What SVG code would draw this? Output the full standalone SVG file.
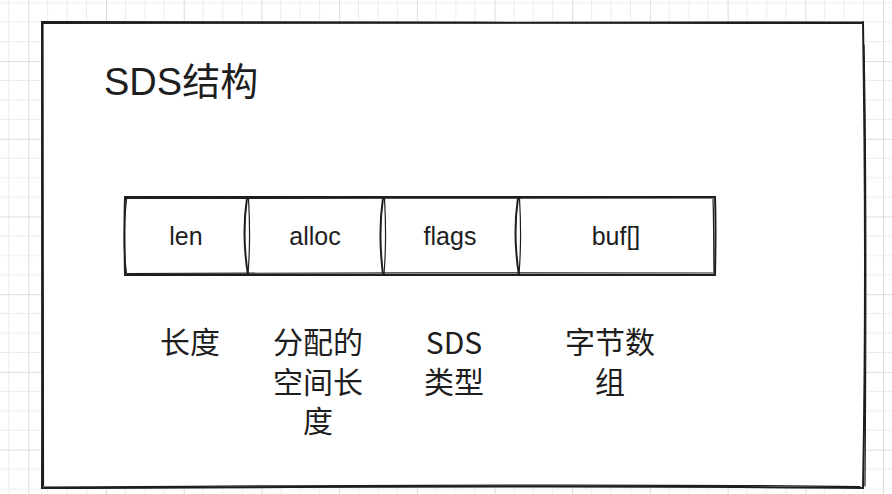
<svg xmlns="http://www.w3.org/2000/svg" width="892" height="494" viewBox="0 0 892 494">
  <defs>
    <pattern id="grid" patternUnits="userSpaceOnUse" x="28.3" y="-16.6" width="77.7" height="77.7">
      <path d="M19.425 0V77.7M38.85 0V77.7M58.275 0V77.7M0 19.425H77.7M0 38.85H77.7M0 58.275H77.7" stroke="#ececec" stroke-width="1" fill="none"/>
      <path d="M0.5 0V77.7M0 0.5H77.7" stroke="#dcdcdc" stroke-width="1" fill="none"/>
    </pattern>
  </defs>
  <style>
    .sk { fill: none; stroke: #1e1e1e; stroke-linecap: round; stroke-linejoin: round; }
    .lat { font-family: "Liberation Sans", "Noto Sans CJK SC", sans-serif; fill: #1e1e1e; }
    .cell { font-size: 25px; text-anchor: middle; }
    .lbl { font-size: 30px; text-anchor: middle; font-family: "Noto Sans CJK SC", "Liberation Sans", sans-serif; fill: #1e1e1e; }
  </style>
  <rect width="892" height="494" fill="#ffffff"/>
  <rect width="892" height="494" fill="url(#grid)"/>

  <g id="sds-frame">
    <path d="M42 22 L42 488 L863 488 L866 250 L863 22 Z" fill="#ffffff" stroke="none"/>
    <path class="sk" stroke-width="2.2" d="M42 22 C300 22.5 600 23 863 23"/>
    <path class="sk" stroke-width="1.2" d="M43 23.5 C320 23 610 22.8 862 22"/>
    <path class="sk" stroke-width="2" d="M863 22 C865 150 866 330 863 488"/>
    <path class="sk" stroke-width="1.2" d="M864 45 C866.5 170 866 350 865 486"/>
    <path class="sk" stroke-width="2" d="M863 488 C600 485 330 487 42 488"/>
    <path class="sk" stroke-width="1.2" d="M860 486.5 C580 483 300 486 44 487"/>
    <path class="sk" stroke-width="2" d="M42 488 C42.5 330 42 170 42 22"/>
    <path class="sk" stroke-width="1.2" d="M43.5 486 C43.5 320 43 160 43 24"/>
  </g>

  <g id="title">
    <text class="lat" x="104" y="95" font-size="38">SDS结构</text>
  </g>

  <g id="struct-row">
    <path class="sk" stroke-width="2" d="M125 197 C300 196.5 500 197.5 715 197"/>
    <path class="sk" stroke-width="1.2" d="M126 198.5 C320 198 520 198.5 713 198"/>
    <path class="sk" stroke-width="2" d="M715 197 C716 225 715.5 250 715 275"/>
    <path class="sk" stroke-width="1.2" d="M713 199 C714 230 713.5 252 714 273"/>
    <path class="sk" stroke-width="2" d="M715 275 C500 275.5 300 274 125 275"/>
    <path class="sk" stroke-width="1.2" d="M713 273 C520 272 320 273.5 127 273.5"/>
    <path class="sk" stroke-width="2" d="M125 197 C124 225 124.5 250 125 275"/>
    <path class="sk" stroke-width="1.2" d="M126.5 199 C123 230 124 255 126.5 273"/>
  </g>

  <g id="cell-len">
    <text class="lat cell" x="186" y="245">len</text>
  </g>
  <g id="cell-alloc">
    <path class="sk" stroke-width="2" d="M247 198 C243 225 244 250 248 275"/>
    <path class="sk" stroke-width="1.2" d="M248.5 198 C250 225 250 250 248 274"/>
    <text class="lat cell" x="315" y="245">alloc</text>
  </g>
  <g id="cell-flags">
    <path class="sk" stroke-width="2" d="M383 198 C379 225 380 250 383 275"/>
    <path class="sk" stroke-width="1.2" d="M384.5 198 C386 225 386 250 384 274"/>
    <text class="lat cell" x="450" y="245">flags</text>
  </g>
  <g id="cell-buf">
    <path class="sk" stroke-width="2" d="M518 198 C514 225 515 250 519 275"/>
    <path class="sk" stroke-width="1.2" d="M519.5 198 C521 225 521 250 519 274"/>
    <text class="lat cell" x="616" y="245">buf[]</text>
  </g>

  <g id="label-len">
    <text class="lbl" x="190" y="353">长度</text>
  </g>
  <g id="label-alloc">
    <text class="lbl" x="318" y="353">分配的</text>
    <text class="lbl" x="318" y="392.5">空间长</text>
    <text class="lbl" x="318" y="432">度</text>
  </g>
  <g id="label-flags">
    <text class="lbl" x="454" y="354" font-family="Liberation Sans, sans-serif" font-size="28">SDS</text>
    <text class="lbl" x="454" y="392.5">类型</text>
  </g>
  <g id="label-buf">
    <text class="lbl" x="610" y="353">字节数</text>
    <text class="lbl" x="610" y="392.5">组</text>
  </g>
</svg>
